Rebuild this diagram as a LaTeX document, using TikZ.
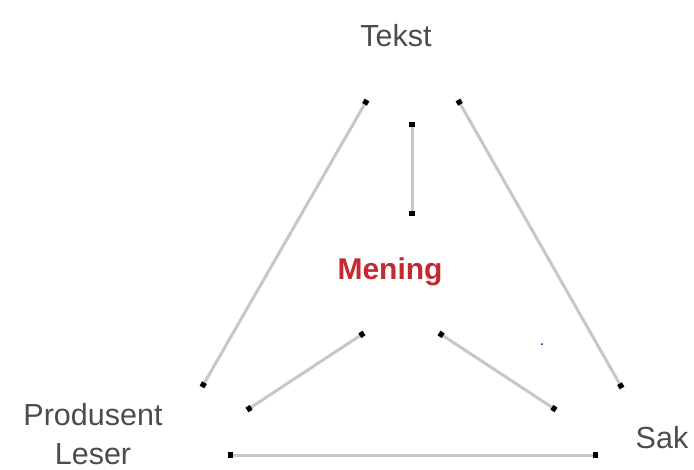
\documentclass[tikz,border=0pt]{standalone}
\usepackage{fontspec}
\setmainfont{Liberation Sans}
\usetikzlibrary{arrows.meta}
\definecolor{meningred}{RGB}{196,40,48}

\begin{document}
\begin{tikzpicture}[x=1pt, y=-1pt]

 \tikzset{corner text/.style={
 		text=black!70,
 		font=\fontsize{30.5}{39}\selectfont,
 		align=center,
 		anchor=base,
 		inner sep=0pt
 	},
 	link/.style={
 		draw=black!22,
 		line width=3pt,
 		{Square[black,length=5pt,width=5.5pt]}-{Square[black,length=5pt,width=5.5pt]}
 	}
 }
 \useasboundingbox (0,0) rectangle (694,469);

 % corners and centre
 \node[corner text] (tekst) at (396,46) {Tekst};
 \node[corner text, text=meningred, font=\fontsize{30}{39}\selectfont\bfseries] (mening) at (390,279) {Mening};
 \node[corner text] (produsent) at (93,464) {Produsent\\Leser};
 \node[corner text] (sak) at (662,448) {Sak};

 % line ends
 \coordinate (tl) at (367,100);
 \coordinate (tr) at (458,100);
 \coordinate (tm) at (412,122);
 \coordinate (mt) at (412,216);
 \coordinate (ml) at (364,333);
 \coordinate (mr) at (439,333);
 \coordinate (pl) at (202,387);
 \coordinate (pm) at (247,410);
 \coordinate (sr) at (622,388);
 \coordinate (sm) at (556,410);
 \coordinate (pb) at (228,455);
 \coordinate (sb) at (598,455);

 \draw[link] (tl) -- (pl);
 \draw[link] (tr) -- (sr);
 \draw[link] (tm) -- (mt);
 \draw[link] (ml) -- (pm);
 \draw[link] (mr) -- (sm);
 \draw[link] (pb) -- (sb);

 \fill[blue!70!black] (542,344) circle (1pt);
\end{tikzpicture}
\end{document}
